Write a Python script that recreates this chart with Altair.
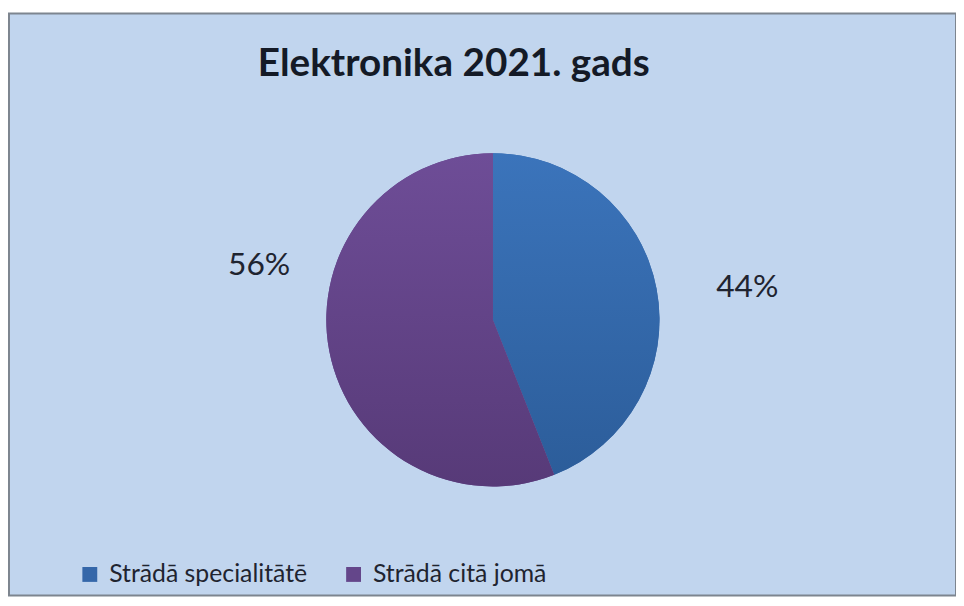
import altair as alt
import pandas as pd

categories = ["Strādā specialitātē", "Strādā citā jomā"]
values = [44, 56]
labels = ["44%", "56%"]
colors = ["#3567a9", "#64468a"]

df = pd.DataFrame({"idx": list(range(len(categories))), "category": categories,
                   "value": values, "label": labels})

CX, CY = 488, 309
R = 168

base = alt.Chart(df).transform_window(
    end="sum(value)", sort=[alt.SortField("idx")], frame=[None, 0]
).transform_calculate(
    start="datum.end - datum.value",
    mid="datum.end - datum.value / 2",
)

theta_scale = alt.Scale(domain=[0, 100])

legend_arcs = base.mark_arc(outerRadius=R).encode(
    theta=alt.Theta("start:Q", scale=theta_scale, stack=None),
    theta2="end:Q",
    color=alt.Color("category:N", scale=alt.Scale(domain=categories, range=colors),
                    sort=categories,
                    legend=alt.Legend(title=None, orient="none", legendX=69, legendY=553,
                                      direction="horizontal", symbolType="square",
                                      symbolSize=225, symbolStrokeWidth=0,
                                      labelFontSize=25, labelFont="Lato", labelLimit=0,
                                      labelColor="#1f2430", labelOffset=7,
                                      columnPadding=34)),
    x=alt.value(CX), y=alt.value(CY),
)

grads = [
    {"gradient": "linear", "x1": 0, "y1": 0, "x2": 0, "y2": 1,
     "stops": [{"offset": 0, "color": "#3b74bb"}, {"offset": 1, "color": "#2c5d9a"}]},
    {"gradient": "linear", "x1": 0, "y1": 0, "x2": 0, "y2": 1,
     "stops": [{"offset": 0, "color": "#6e4d97"}, {"offset": 1, "color": "#573a78"}]},
]

grad_layers = []
for i, g in enumerate(grads):
    grad_layers.append(
        base.transform_filter(alt.datum.idx == i).mark_arc(outerRadius=R, color=g).encode(
            theta=alt.Theta("start:Q", scale=theta_scale, stack=None),
            theta2="end:Q",
            x=alt.value(CX), y=alt.value(CY),
        )
    )

label_style = [dict(radius=255, dx=6, dy=15), dict(radius=240, dx=0, dy=-100)]
text_layers = []
for i, st in enumerate(label_style):
    text_layers.append(
        base.transform_filter(alt.datum.idx == i).mark_text(
            font="Lato", fontSize=32, color="#1f2430", **st
        ).encode(
            theta=alt.Theta("mid:Q", scale=theta_scale, stack=None),
            text="label:N",
            x=alt.value(CX), y=alt.value(CY),
        )
    )

chart = alt.layer(legend_arcs, *grad_layers, *text_layers).properties(
    width=955, height=587,
    padding={"left": 1, "top": 3, "right": 0, "bottom": 0},
    autosize=alt.AutoSizeParams(type="none"),
    title=alt.TitleParams("Elektronika 2021. gads", font="Lato", fontSize=39,
                          fontWeight="bold", color="#141a26", anchor="middle",
                          dx=-29, offset=-102, baseline="alphabetic"),
).configure(background="white").configure_view(
    fill="#c1d5ee", stroke="#7d858f", strokeWidth=2
)

chart.save("out.html", embed_options={"renderer": "svg", "actions": False})
